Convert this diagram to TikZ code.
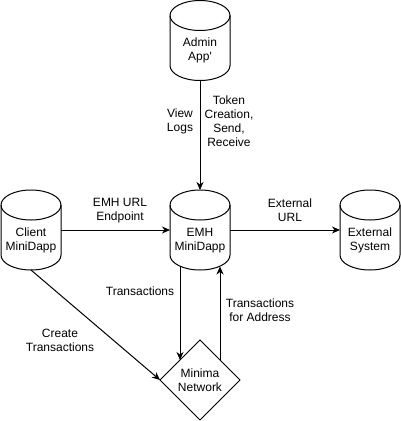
\documentclass[tikz,border=0pt]{standalone}
\usepackage{fontspec}
\setmainfont{Liberation Sans}
\usetikzlibrary{shapes.geometric,arrows.meta}
\begin{document}
\begin{tikzpicture}[x=1pt,y=-1pt,
  font=\fontsize{12}{14}\selectfont,
  every node/.style={outer sep=0pt},
  cyl/.style={minimum width=60pt, minimum height=80pt, inner sep=0pt},
  cyltext/.style={align=center, inner sep=0pt},
  lbl/.style={align=center, inner sep=0pt},
  conn/.style={line width=1pt, -{Stealth[length=8pt,width=7pt,inset=2.5pt]}},
  outline/.style={line width=1pt, fill=white},
  decision/.style={diamond, draw, line width=1pt, fill=white, aspect=1,
    minimum width=80pt, minimum height=80pt, inner sep=0pt, align=center}]
\useasboundingbox (0,0) rectangle (401,421);

% cylinder frames (named, outlines drawn below)
\node[cyl] (admin)  at (200,40.5) {};
\node[cyl] (client) at (31,230) {};
\node[cyl] (emh)    at (200,230) {};
\node[cyl] (ext)    at (370,230) {};

\foreach \n in {admin,client,emh,ext}{
  \draw[outline] ([yshift=-15pt]\n.north west) -- ([yshift=15pt]\n.south west)
    arc[start angle=180,end angle=360,x radius=30pt,y radius=15pt]
    -- ([yshift=-15pt]\n.north east)
    arc[start angle=0,end angle=180,x radius=30pt,y radius=15pt] -- cycle;
  \draw[line width=1pt] ([yshift=-15pt]\n.north west)
    arc[start angle=180,end angle=360,x radius=30pt,y radius=15pt];
}

\node[cyltext] (adminT)  at ([yshift=-10pt]admin.center)  {Admin\\App\textquotesingle};
\node[cyltext] (clientT) at ([yshift=-10.5pt]client.center) {Client\\MiniDapp};
\node[cyltext] (emhT)    at ([yshift=-10.5pt]emh.center)    {EMH\\MiniDapp};
\node[cyltext] (extT)    at ([yshift=-10.5pt]ext.center)    {External\\System};

\node[decision] (net) at (200,380) {Minima\\Network};

% connectors
\draw[conn] (admin.south) -- (emh.north);
\draw[conn] (client.east) -- (emh.west);
\draw[conn] (emh.east) -- (ext.west);
\draw[conn] ([shift={(-20pt,3.8pt)}]emh.south) -- (net.north west);
\draw[conn] (net.north east) -- ([shift={(20pt,3.5pt)}]emh.south);
\draw[conn] (client.south) -- (net.west);

% connector labels
\node[lbl] (lview)  at (180,121) {View\\Logs};
\node[lbl] (ltoken) at (229,121) {Token\\Creation,\\Send,\\Receive};
\node[lbl] (lurl)   at (120,210.5) {EMH URL\\Endpoint};
\node[lbl] (lext)   at (290,210.5) {External\\URL};
\node[lbl] (ltx)    at (140,291) {Transactions};
\node[lbl] (ltxa)   at (260,310) {Transactions\\for Address};
\node[lbl] (lcreate) at (60,340.5) {Create\\Transactions};
\end{tikzpicture}
\end{document}
